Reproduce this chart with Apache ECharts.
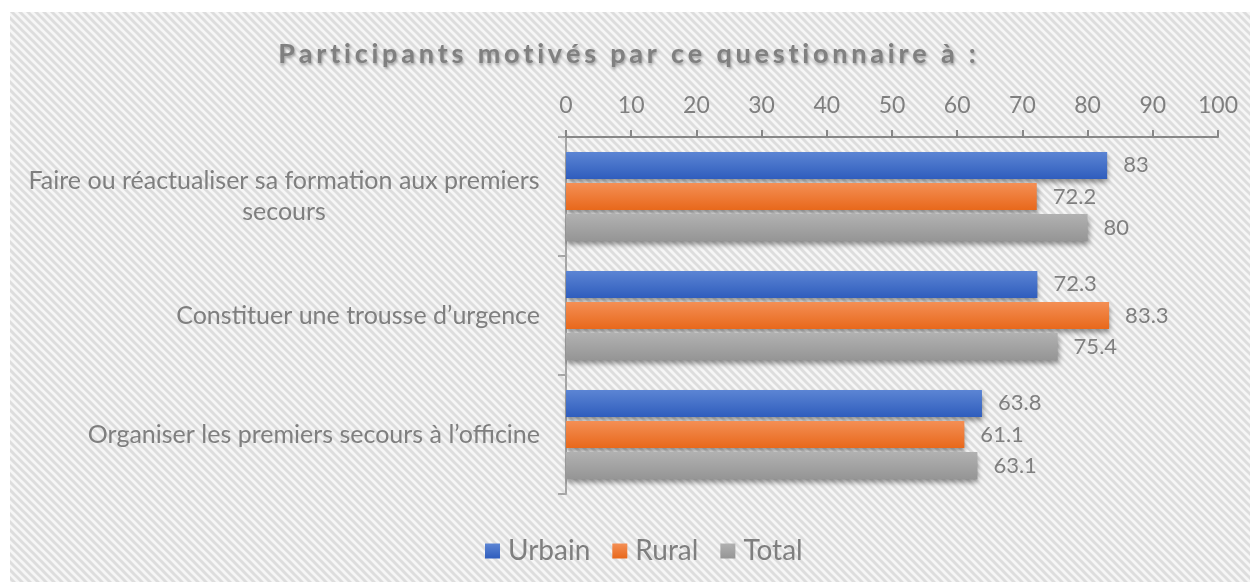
<!DOCTYPE html>
<html>
<head>
<meta charset="utf-8">
<script src="https://cdn.jsdelivr.net/npm/echarts@6/dist/echarts.min.js"></script>
<style>
  html, body { margin: 0; padding: 0; background: #ffffff; }
  #chart { width: 1254px; height: 585px; }
</style>
</head>
<body>
<div id="chart"></div>
<script>
// Chart data
const titleText = 'Participants motivés par ce questionnaire à :';
const categories = [
  'Faire ou réactualiser sa formation aux premiers\nsecours',
  'Constituer une trousse d’urgence',
  'Organiser les premiers secours à l’officine'
];
const seriesNames = ['Urbain', 'Rural', 'Total'];
const urbain = [83, 72.3, 63.8];
const rural = [72.2, 83.3, 61.1];
const total = [80, 75.4, 63.1];
const axisTicks = [0, 10, 20, 30, 40, 50, 60, 70, 80, 90, 100];

const labelFont = 'Lato, "Open Sans", sans-serif';
const labelSize = 25;
const textGray = '#7f7f7f';

// Diagonal hatch tile used for the chart-area background
function makeHatch() {
  const s = 8;
  const c = document.createElement('canvas');
  c.width = s; c.height = s;
  const ctx = c.getContext('2d');
  ctx.fillStyle = '#f6f6f6';
  ctx.fillRect(0, 0, s, s);
  ctx.strokeStyle = '#dddddd';
  ctx.lineWidth = 3;
  for (let k = -1; k <= 1; k++) {
    ctx.beginPath();
    ctx.moveTo(k * s - 1, -1);
    ctx.lineTo(k * s + s + 1, s + 1);
    ctx.stroke();
  }
  return c;
}

// Width of the longest line of a wrapped category label
function measureLongest(text) {
  const c = document.createElement('canvas').getContext('2d');
  c.font = labelSize + 'px ' + labelFont;
  return Math.max(...text.split('\n').map(t => c.measureText(t).width));
}

// Spaced-out title: one rich token per character so the letters get tracking
function tracked(text) {
  return text.split('').map(ch => '{t|' + ch + '}').join('');
}

function grad(top, bottom) {
  return new echarts.graphic.LinearGradient(0, 0, 0, 1, [
    { offset: 0, color: top },
    { offset: 1, color: bottom }
  ]);
}

const palette = [
  grad('#5c85d4', '#2f5dbd'),
  grad('#f48f55', '#e8681b'),
  grad('#b1b1b1', '#959595')
];
const values = [urbain, rural, total];

const chart = echarts.init(document.getElementById('chart'), null, { renderer: 'canvas' });

const wrapWidth = Math.ceil(measureLongest(categories[0]));

const titleStyle = {
  fontFamily: labelFont,
  fontSize: 27,
  fontWeight: 'bold',
  color: '#808080',
  textShadowColor: 'rgba(0,0,0,0.35)',
  textShadowBlur: 3,
  textShadowOffsetX: 1,
  textShadowOffsetY: 2
};

chart.setOption({
  backgroundColor: '#ffffff',
  animation: false,
  graphic: [{
    type: 'rect',
    z: -100,
    silent: true,
    shape: { x: 10, y: 12, width: 1240, height: 570 },
    style: { fill: { image: makeHatch(), repeat: 'repeat' } }
  }],
  title: {
    text: tracked(titleText),
    left: 'center',
    top: 36,
    textStyle: Object.assign({}, titleStyle, {
      rich: { t: Object.assign({}, titleStyle, { padding: [0, 1.9] }) }
    })
  },
  legend: {
    bottom: 15,
    left: 480,
    icon: 'rect',
    itemWidth: 15,
    itemHeight: 15,
    itemGap: 22,
    textStyle: { fontFamily: labelFont, fontSize: 28, color: textGray, padding: [0, 0, 0, 3] },
    itemStyle: { shadowBlur: 0, shadowOffsetX: 0, shadowOffsetY: 0 },
    data: seriesNames
  },
  grid: { left: 566, right: 36, top: 137, bottom: 91, containLabel: false },
  xAxis: {
    type: 'value',
    position: 'top',
    min: axisTicks[0],
    max: axisTicks[axisTicks.length - 1],
    interval: axisTicks[1] - axisTicks[0],
    splitLine: { show: false },
    axisLine: { show: true, lineStyle: { color: '#878787', width: 2 } },
    axisTick: { show: true, length: 7, lineStyle: { color: '#878787', width: 2 } },
    axisLabel: { margin: 20, fontFamily: labelFont, fontSize: 23, color: textGray }
  },
  yAxis: {
    type: 'category',
    inverse: true,
    data: categories,
    axisLine: { show: true, lineStyle: { color: '#a6a6a6', width: 2 } },
    axisTick: { show: true, length: 8, lineStyle: { color: '#a6a6a6', width: 2 } },
    axisLabel: {
      margin: 26,
      align: 'right',
      fontFamily: labelFont,
      fontSize: labelSize,
      color: textGray,
      lineHeight: 31,
      formatter: v => v.indexOf('\n') >= 0 ? '{w|' + v + '}' : v,
      rich: {
        w: {
          width: wrapWidth,
          align: 'center',
          fontFamily: labelFont,
          fontSize: labelSize,
          color: textGray,
          lineHeight: 31
        }
      }
    }
  },
  series: seriesNames.map((name, i) => ({
    name: name,
    type: 'bar',
    data: values[i],
    barGap: '15%',
    barCategoryGap: '25%',
    itemStyle: {
      color: palette[i],
      shadowColor: 'rgba(0,0,0,0.4)',
      shadowBlur: 5,
      shadowOffsetX: 1,
      shadowOffsetY: 4
    },
    label: {
      show: true,
      position: 'right',
      distance: 16,
      fontFamily: labelFont,
      fontSize: 22,
      color: textGray
    }
  }))
});
</script>
</body>
</html>
